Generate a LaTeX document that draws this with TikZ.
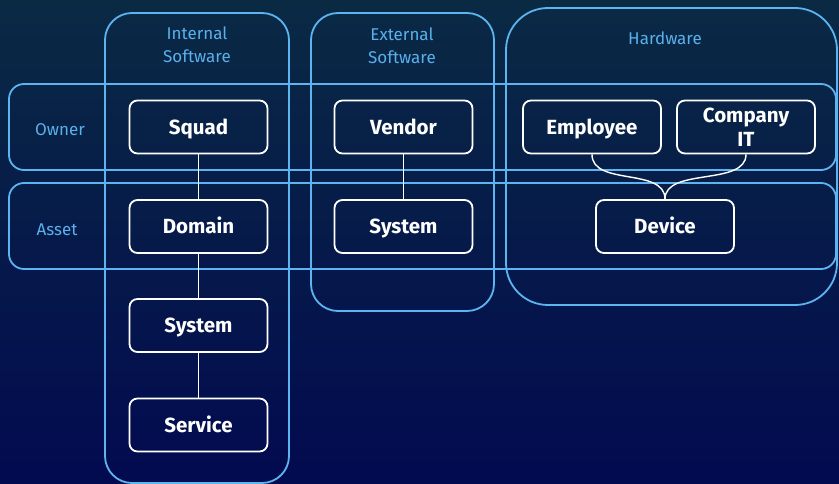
\documentclass[tikz,border=0pt]{standalone}
\usepackage{fontspec}
\setmainfont{Fira Sans}
\definecolor{bgtop}{HTML}{0A2A44}
\definecolor{bgbot}{HTML}{020A50}
\definecolor{lane}{HTML}{5CB4F0}
\definecolor{lanetext}{HTML}{5AB0EC}
\tikzset{
  lanebox/.style={draw=lane, line width=1.8pt},
  lanelabel/.style={text=lanetext, font=\fontsize{17}{23}\selectfont, align=center, inner sep=0pt},
  item/.style={draw=white, line width=1.8pt, rounded corners=8pt, minimum width=138pt, minimum height=53pt,
    text=white, font=\fontsize{20.5}{24}\selectfont\bfseries, align=center, inner sep=0pt},
  oneline/.style={text height=14.1pt, text depth=0pt},
  link/.style={draw=white, line width=1.4pt},
}
\begin{document}
\begin{tikzpicture}[x=1pt,y=-1pt]
\shade[top color=bgtop, bottom color=bgbot] (0,0) rectangle (839,484);
\useasboundingbox (0,0) rectangle (839,484);
% columns
\draw[lanebox, rounded corners=27pt] (105,13) rectangle (289,483);
\draw[lanebox, rounded corners=27pt] (311,13) rectangle (494,311);
\draw[lanebox, rounded corners=42pt] (506,8) rectangle (837,305);
% rows
\draw[lanebox, rounded corners=15pt] (9,84) rectangle (836,170);
\draw[lanebox, rounded corners=15pt] (9,183) rectangle (836,269);
% lane labels
\node[lanelabel] (lint) at (197,45) {Internal\\Software};
\node[lanelabel] (lext) at (402,46) {External\\Software};
\node[lanelabel] (lhw) at (665,38) {Hardware};
\node[lanelabel] (lown) at (60,130) {Owner};
\node[lanelabel] (lasset) at (57,230) {Asset};
% items
\node[item, oneline] (squad) at (198.5,127) {Squad};
\node[item, oneline] (domain) at (198.5,226.5) {Domain};
\node[item, oneline] (system) at (198.5,325.5) {System};
\node[item, oneline] (service) at (198.5,425) {Service};
\node[item, oneline] (vendor) at (403.5,127) {Vendor};
\node[item, oneline] (system2) at (403.5,226.5) {System};
\node[item, oneline] (employee) at (592,127) {Employee};
\node[item] (company) at (746,127) {Company\\IT};
\node[item, oneline] (device) at (665,226.5) {Device};
% connectors
\draw[link] (squad) -- (domain);
\draw[link] (domain) -- (system);
\draw[link] (system) -- (service);
\draw[link] (vendor) -- (system2);
\draw[link] (employee.south) .. controls +(0,32) and +(0,-32) .. (device.north);
\draw[link] (company.south) .. controls +(0,32) and +(0,-32) .. (device.north);
\end{tikzpicture}
\end{document}
